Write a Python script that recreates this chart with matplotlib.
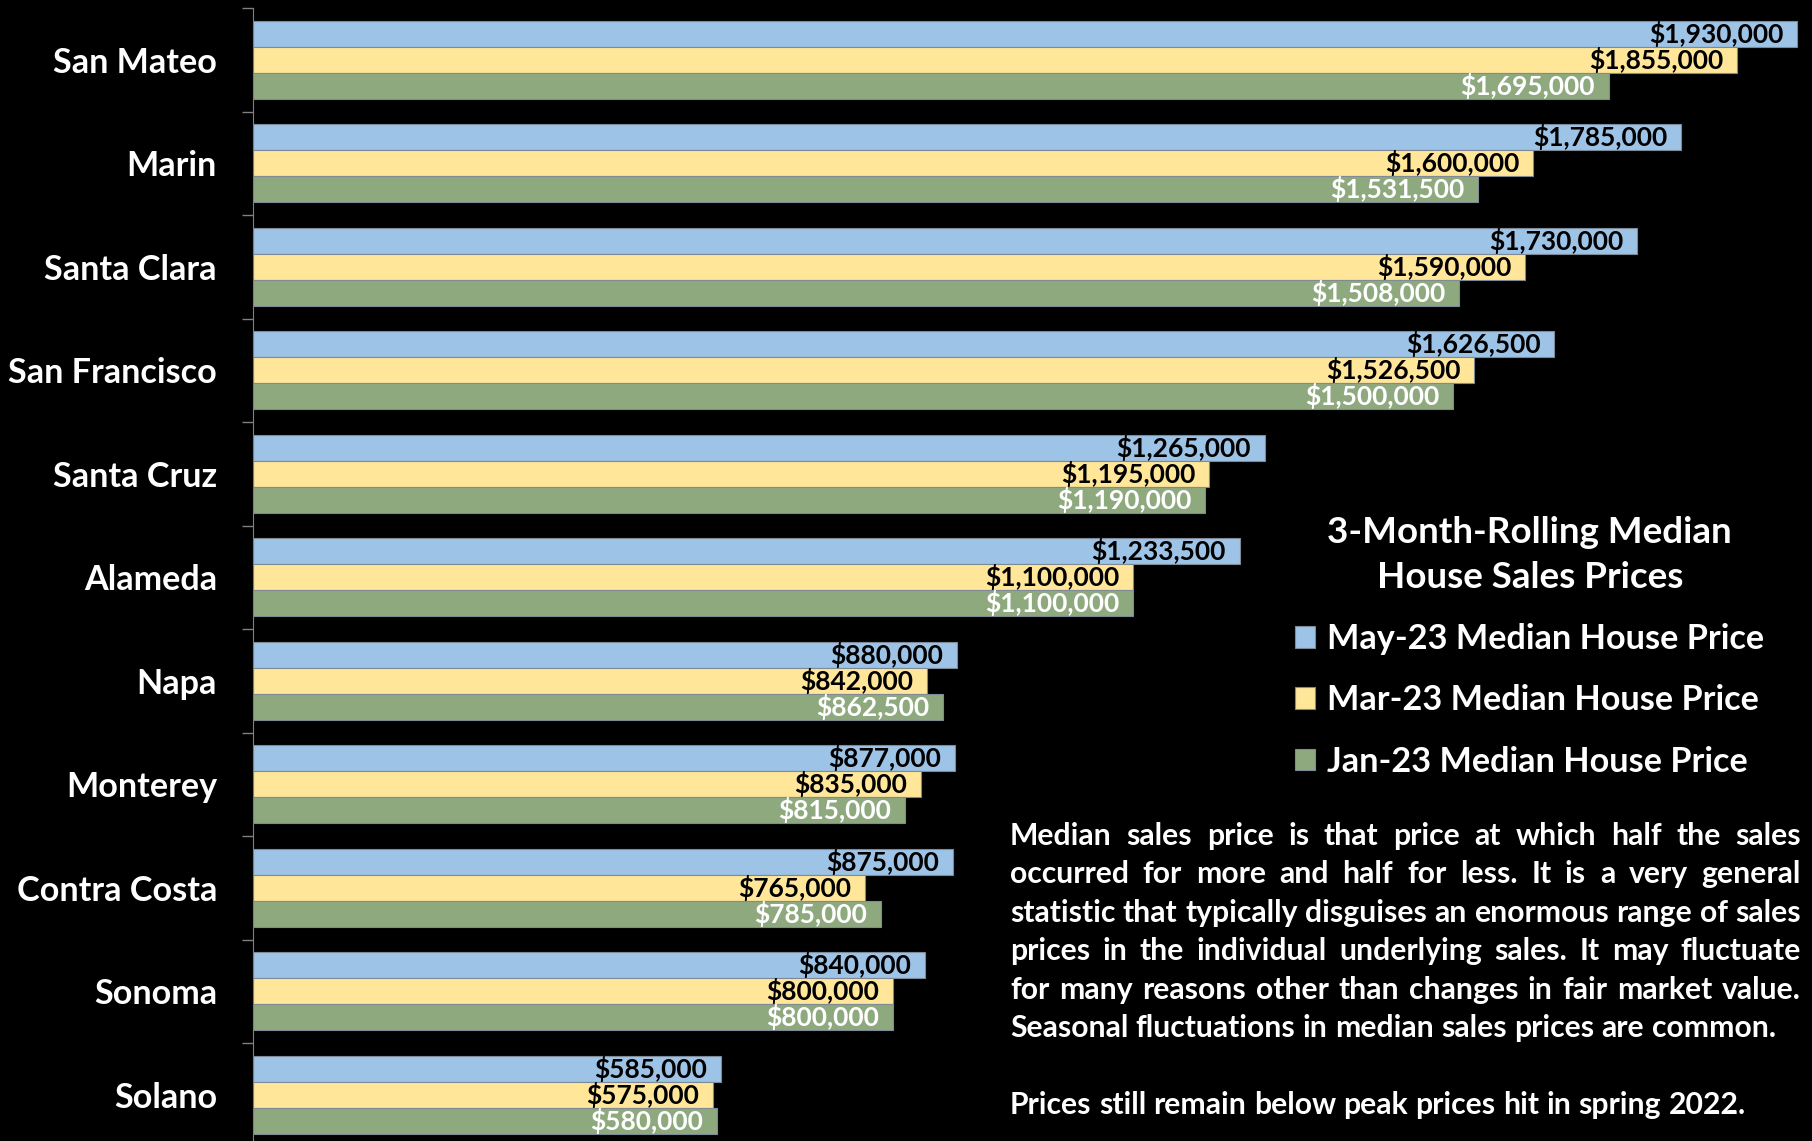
import matplotlib
matplotlib.use("Agg")
import matplotlib.pyplot as plt
import numpy as np

plt.rcParams["font.family"] = ["Lato", "DejaVu Sans"]
plt.rcParams["font.weight"] = "bold"

counties = ["San Mateo", "Marin", "Santa Clara", "San Francisco", "Santa Cruz",
            "Alameda", "Napa", "Monterey", "Contra Costa", "Sonoma", "Solano"]
may23 = [1930000, 1785000, 1730000, 1626500, 1265000, 1233500,
         880000, 877000, 875000, 840000, 585000]
mar23 = [1855000, 1600000, 1590000, 1526500, 1195000, 1100000,
         842000, 835000, 765000, 800000, 575000]
jan23 = [1695000, 1531500, 1508000, 1500000, 1190000, 1100000,
         862500, 815000, 785000, 800000, 580000]
series_names = ["May-23 Median House Price", "Mar-23 Median House Price",
                "Jan-23 Median House Price"]
legend_title = "3-Month-Rolling Median\nHouse Sales Prices"
note_paragraphs = [
    ["Median sales price is that price at which half the sales",
     "occurred for more and half for less. It is a very general",
     "statistic that typically disguises an enormous range of sales",
     "prices in the individual underlying sales. It may fluctuate",
     "for many reasons other than changes in fair market value.",
     "Seasonal fluctuations in median sales prices are common."],
    ["Prices still remain below peak prices hit in spring 2022."],
]

colors = ["#9dc3e6", "#ffe699", "#8fa97f"]
label_colors = ["black", "black", "white"]

W, H = 1812, 1141
fig = plt.figure(figsize=(W / 100, H / 100), dpi=100, facecolor="black")
# plot area: left spine at 253px, top at 8px, bottom runs just past the image
ax = fig.add_axes([253 / W, -5.5 / H, (W - 253) / W, (H - 8 + 5.5) / H])
ax.set_facecolor("black")

y = np.arange(len(counties))
bh = 0.25
bars = []
for k, (vals, c, lc) in enumerate(zip([may23, mar23, jan23], colors, label_colors)):
    pos = y - bh + k * bh
    b = ax.barh(pos, vals, height=bh, color=c, edgecolor="#7f8a96",
                linewidth=0.8, label=series_names[k])
    bars.append(b)
    for p, v in zip(pos, vals):
        ax.annotate(f"${v:,.0f}", xy=(v, p), xytext=(-10, 0),
                    textcoords="offset points", ha="right", va="center",
                    fontsize=19, fontweight="bold", color=lc)

ax.set_xlim(0, 1948750)
ax.set_ylim(len(counties) - 0.5, -0.5)
ax.set_xticks([])
ax.set_yticks(y)
ax.set_yticklabels(counties, fontsize=24.6, fontweight="bold", color="white")
ax.set_yticks(np.arange(-0.5, len(counties)), minor=True)
ax.tick_params(axis="y", which="major", length=0, pad=26)
ax.tick_params(axis="y", which="minor", length=8, width=1, color="#808080")
for s in ["top", "right", "bottom"]:
    ax.spines[s].set_visible(False)
ax.spines["left"].set_color("#808080")

leg = fig.legend(handles=bars, title=legend_title, loc="upper left",
                 bbox_to_anchor=(1264 / W, 1 - 485 / H), frameon=False,
                 fontsize=24.7, title_fontproperties={"size": 26.5, "weight": "bold"},
                 handlelength=0.6, handleheight=0.6, handletextpad=0.35,
                 labelspacing=0.85, labelcolor="white")
leg.get_title().set_color("white")
leg.get_title().set_multialignment("center")
leg.get_title().set_linespacing(1.45)

# justified note block, placed word by word
renderer = fig.canvas.get_renderer()
note_size = 21.7
x0, x1 = 1010, 1801
baseline = 845
line_step = 38.4
for pi, para in enumerate(note_paragraphs):
    for li, line in enumerate(para):
        words = line.split()
        last = li == len(para) - 1
        texts = [fig.text(0, 0, w, fontsize=note_size, fontweight="bold",
                          color="white", va="baseline", ha="left") for w in words]
        widths = [t.get_window_extent(renderer).width for t in texts]
        if last or len(words) == 1:
            space = fig.text(0, 0, "a a", fontsize=note_size, fontweight="bold")
            aa = fig.text(0, 0, "aa", fontsize=note_size, fontweight="bold")
            sp = (space.get_window_extent(renderer).width
                  - aa.get_window_extent(renderer).width)
            space.remove()
            aa.remove()
        else:
            sp = (x1 - x0 - sum(widths)) / (len(words) - 1)
        xp = x0
        for t, wd in zip(texts, widths):
            t.set_position((xp / W, 1 - baseline / H))
            xp += wd + sp
        baseline += line_step
    baseline += line_step

fig.savefig("out.png", dpi=100, facecolor="black")
